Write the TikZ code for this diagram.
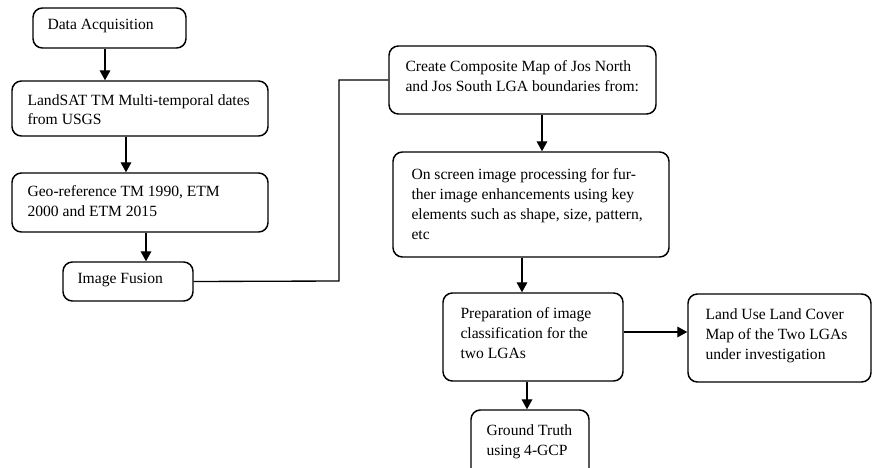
\documentclass[tikz,border=0pt]{standalone}
\usepackage{fontspec}
\setmainfont{Liberation Serif}
\usetikzlibrary{arrows.meta,calc}
\begin{document}
\begin{tikzpicture}[x=0.75pt,y=-0.75pt,
  box/.style={draw,line width=1.1pt,rounded corners=7pt,inner sep=0pt},
  txt/.style={anchor=north west,inner sep=0pt,align=left,font=\fontsize{11.7pt}{15pt}\selectfont},
  conn/.style={line width=1pt},
  arr/.style={line width=1pt,-{Triangle[length=7.5pt,width=8pt]}}]
\useasboundingbox (0,0) rectangle (872,468);
\clip (0,0) rectangle (872,468);
% boxes (centre x, centre y, width, height in px)
\node[box,minimum width={153*0.75pt},minimum height={40*0.75pt}] (b1) at (109.5,28) {};
\node[box,minimum width={256*0.75pt},minimum height={55*0.75pt}] (b2) at (140,108.5) {};
\node[box,minimum width={256*0.75pt},minimum height={59*0.75pt}] (b3) at (140,202.5) {};
\node[box,minimum width={130*0.75pt},minimum height={39*0.75pt}] (b4) at (128,281.5) {};
\node[box,minimum width={267*0.75pt},minimum height={68*0.75pt}] (b5) at (522.5,80) {};
\node[box,minimum width={276*0.75pt},minimum height={105*0.75pt}] (b6) at (531,204.5) {};
\node[box,minimum width={180*0.75pt},minimum height={88*0.75pt}] (b7) at (533,337) {};
\node[box,minimum width={183*0.75pt},minimum height={88*0.75pt}] (b8) at (779.5,338) {};
\node[box,minimum width={118*0.75pt},minimum height={72*0.75pt}] (b9) at (530,446) {};
% texts
\node[txt] (t1) at ($(b1.north west)+(15,12)$) {Data Acquisition};
\node[txt,font=\fontsize{11.7pt}{14.3pt}\selectfont] (t2) at ($(b2.north west)+(16,14)$) {LandSAT TM Multi-temporal dates\\from USGS};
\node[txt] (t3) at ($(b3.north west)+(16,13)$) {Geo-reference TM 1990, ETM\\2000 and ETM 2015};
\node[txt] (t4) at ($(b4.north west)+(15,12)$) {Image Fusion};
\node[txt] (t5) at ($(b5.north west)+(17,15)$) {Create Composite Map of Jos North\\and Jos South LGA boundaries from:};
\node[txt] (t6) at ($(b6.north west)+(19,17)$) {On screen image processing for fur-\\ther image enhancements using key\\elements such as shape, size, pattern,\\etc};
\node[txt] (t7) at ($(b7.north west)+(18,15)$) {Preparation of image\\classification for the\\two LGAs};
\node[txt] (t8) at ($(b8.north west)+(18,15)$) {Land Use Land Cover\\Map of the Two LGAs\\under investigation};
\node[txt] (t9) at ($(b9.north west)+(16,15)$) {Ground Truth\\using 4-GCP};
% connectors
\draw[arr] ([xshift={-4.5*0.75pt}]b1.south) -- ([xshift={-4.5*0.75pt}]b1.south |- b2.north);
\draw[arr] ([xshift={-14*0.75pt}]b2.south) -- ([xshift={-14*0.75pt}]b2.south |- b3.north);
\draw[arr] ([xshift={6*0.75pt}]b3.south) -- ([xshift={6*0.75pt}]b3.south |- b4.north);
\coordinate (k1) at (339,281);
\draw[conn] (b4.east) -- (k1) |- (b5.west);
\draw[arr] ([xshift={19.5*0.75pt}]b5.south) -- ([xshift={19.5*0.75pt}]b5.south |- b6.north);
\draw[arr] ([xshift={-9*0.75pt}]b6.south) -- ([xshift={-9*0.75pt}]b6.south |- b7.north);
\draw[arr] ([yshift={5*0.75pt}]b7.east) -- ([yshift={5*0.75pt}]b7.east -| b8.west);
\draw[arr] ([xshift={-6*0.75pt}]b7.south) -- ([xshift={-6*0.75pt}]b7.south |- b9.north);
\end{tikzpicture}
\end{document}
